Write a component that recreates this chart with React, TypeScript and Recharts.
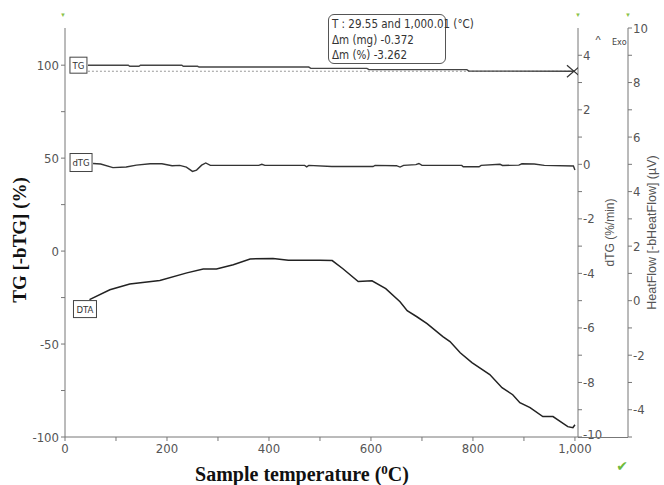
import React from 'react';
import { LineChart, Line, XAxis, YAxis } from 'recharts';

// temperature (°C) for each series
const tgTemp = [45, 124, 127, 145, 148, 229, 232, 260, 263, 478, 482, 592, 596, 788, 792, 1000];
const tgMass = [100, 100, 99.4, 99.4, 100, 100, 99.4, 99.4, 99.0, 99.0, 98.3, 98.3, 97.6, 97.6, 96.8, 96.74];

const baseTemp = [45, 1000];
const baseMass = [96.74, 96.74];

const dtgTemp = [55, 70, 94, 120, 140, 167, 190, 210, 225, 238, 250, 258, 268, 276, 285, 380, 386, 392, 470, 474, 478, 523, 604, 608, 650, 657, 664, 688, 694, 700, 778, 781, 812, 816, 853, 858, 890, 896, 920, 940, 997, 1000];
const dtgRate = [0.03, 0.01, -0.12, -0.1, -0.03, 0.02, 0.02, -0.05, -0.04, -0.1, -0.26, -0.21, -0.03, 0.05, -0.04, -0.04, 0.0, -0.04, -0.04, -0.09, -0.04, -0.08, -0.08, -0.04, -0.05, -0.1, -0.04, -0.01, 0.03, -0.04, -0.04, -0.09, -0.09, -0.04, 0.0, -0.04, -0.03, 0.02, 0.01, -0.04, -0.06, -0.21];

const dtaTemp = [48, 88, 127, 186, 239, 271, 297, 330, 363, 408, 438, 500, 524, 545, 575, 602, 629, 657, 671, 690, 710, 741, 755, 775, 798, 833, 857, 878, 892, 912, 937, 957, 986, 996, 1000];
const dtaFlow = [0.04, 0.4, 0.61, 0.74, 1.02, 1.16, 1.16, 1.32, 1.53, 1.55, 1.48, 1.48, 1.47, 1.17, 0.7, 0.73, 0.44, -0.04, -0.37, -0.59, -0.84, -1.32, -1.5, -1.91, -2.27, -2.71, -3.19, -3.45, -3.74, -3.92, -4.25, -4.25, -4.62, -4.66, -4.55];

const xTicks = [0, 100, 200, 300, 400, 500, 600, 700, 800, 900, 1000];
const tgTicks = [-100, -75, -50, -25, 0, 25, 50, 75, 100];
const dtgTicks = [-10, -9, -8, -7, -6, -5, -4, -3, -2, -1, 0, 1, 2, 3, 4];
const hfTicks = [-5, -4, -3, -2, -1, 0, 1, 2, 3, 4, 5, 6, 7, 8, 9, 10];

const infoLines = ['T : 29.55 and 1,000.01 (°C)', 'Δm (mg) -0.372', 'Δm (%) -3.262'];

const zip = (t: number[], v: number[]) => t.map((x, i) => ({ t: x, v: v[i] }));

const tgData = zip(tgTemp, tgMass);
const baseData = zip(baseTemp, baseMass);
const dtgData = zip(dtgTemp, dtgRate);
const dtaData = zip(dtaTemp, dtaFlow);

const narrow = "'DejaVu Sans Condensed', 'DejaVu Sans', sans-serif";
const narrowStyle = { fontStretch: 'condensed' as const };
const tickColor = '#555';
const axisColor = '#777';

const LeftTick = (p: any) => {
  if (p.payload.value % 50 !== 0) return <g />;
  return (
    <text x={p.x} y={p.y} dy={4.5} textAnchor="end" fill={tickColor} fontSize={13} fontFamily={narrow} style={narrowStyle}>
      {p.payload.value}
    </text>
  );
};

const RightTick = (p: any) => {
  if (p.payload.value % 2 !== 0) return <g />;
  return (
    <text x={p.x} y={p.y} dy={p.payload.value === -10 ? 2 : 4.5} textAnchor="start" fill={tickColor} fontSize={13} fontFamily={narrow} style={narrowStyle}>
      {p.payload.value}
    </text>
  );
};

const BottomTick = (p: any) => {
  if (p.payload.value % 200 !== 0) return <g />;
  return (
    <text x={p.x} y={p.y} dy={10} textAnchor="middle" fill={tickColor} fontSize={13} fontFamily={narrow} style={narrowStyle}>
      {p.payload.value.toLocaleString('en-US')}
    </text>
  );
};

// boxed series name next to the first point
const nameBox = (name: string, w: number, h: number, dx: number, dy: number) => (p: any) => {
  if (p.index !== 0) return <g key={p.index} />;
  return (
    <g key={p.index}>
      <rect x={p.cx + dx} y={p.cy + dy} width={w} height={h} fill="#fff" stroke="#444" strokeWidth={1} />
      <text x={p.cx + dx + w / 2} y={p.cy + dy + h / 2 + 3.5} textAnchor="middle" fontSize={9.5} fill="#333" fontFamily={narrow} style={narrowStyle}>
        {name}
      </text>
    </g>
  );
};

const endCross = (p: any) => {
  if (p.index !== baseData.length - 1) return <g key={p.index} />;
  return (
    <g key={p.index} stroke="#333" strokeWidth={1.2}>
      <line x1={p.cx - 8} y1={p.cy - 6} x2={p.cx + 6} y2={p.cy + 6} />
      <line x1={p.cx - 8} y1={p.cy + 6} x2={p.cx + 6} y2={p.cy - 6} />
    </g>
  );
};

export default function App() {
  return (
    <div style={{ position: 'absolute', left: 0, top: 0, width: 664, height: 485, background: '#fff' }}>
      <LineChart width={664} height={485} margin={{ top: 28, right: 0, bottom: 0, left: 0 }}>
        <XAxis
          dataKey="t"
          type="number"
          domain={[0, 1006]}
          ticks={xTicks}
          tick={BottomTick}
          tickSize={4}
          tickMargin={2}
          height={48}
          stroke={axisColor}
          allowDataOverflow
          label={{
            content: (p: any) => (
              <text x={p.viewBox.x + 237} y={p.viewBox.y + 44} textAnchor="middle" fontFamily="'Liberation Serif', 'Times New Roman', serif" fontWeight="bold" fontSize={20} fill="#111">
                Sample temperature (<tspan dy={-7} fontSize={13}>0</tspan><tspan dy={7}>C)</tspan>
              </text>
            ),
          }}
        />
        <YAxis
          yAxisId="tg"
          orientation="left"
          domain={[-100, 120]}
          ticks={tgTicks}
          tick={LeftTick}
          tickSize={4}
          tickMargin={2}
          width={65}
          stroke={axisColor}
          allowDataOverflow
          label={{
            content: () => (
              <text x={20} y={240} transform="rotate(-90 20 240)" dy={6} textAnchor="middle" fontFamily="'Liberation Serif', 'Times New Roman', serif" fontWeight="bold" fontSize={19} fill="#111">
                TG [-bTG] (%)
              </text>
            ),
          }}
        />
        <YAxis
          yAxisId="dtg"
          orientation="right"
          domain={[-10, 5]}
          ticks={dtgTicks}
          tick={RightTick}
          tickSize={4}
          tickMargin={1}
          width={50}
          stroke={axisColor}
          allowDataOverflow
          label={{
            content: (p: any) => (
              <text x={p.viewBox.x + 36} y={p.viewBox.y + p.viewBox.height / 2} transform={`rotate(-90 ${p.viewBox.x + 36} ${p.viewBox.y + p.viewBox.height / 2})`} textAnchor="middle" fontFamily="Arial, 'Liberation Sans', sans-serif" fontSize={12} fill="#555">
                dTG (%/min)
              </text>
            ),
          }}
        />
        <YAxis
          yAxisId="hf"
          orientation="right"
          domain={[-5, 10]}
          ticks={hfTicks}
          tick={RightTick}
          tickSize={4}
          tickMargin={1}
          width={36}
          stroke={axisColor}
          allowDataOverflow
          label={{
            content: (p: any) => (
              <text x={p.viewBox.x + 28} y={p.viewBox.y + p.viewBox.height / 2} transform={`rotate(-90 ${p.viewBox.x + 28} ${p.viewBox.y + p.viewBox.height / 2})`} textAnchor="middle" fontFamily="Arial, 'Liberation Sans', sans-serif" fontSize={12.5} fill="#555">
                HeatFlow [-bHeatFlow] (µV)
              </text>
            ),
          }}
        />
        <Line yAxisId="tg" data={baseData} dataKey="v" stroke="#999" strokeWidth={1} strokeDasharray="2 2" dot={endCross} isAnimationActive={false} />
        <Line yAxisId="tg" data={tgData} dataKey="v" type="linear" stroke="#444" strokeWidth={1.4} dot={nameBox('TG', 17, 16, -18, -8)} isAnimationActive={false} />
        <Line yAxisId="dtg" data={dtgData} dataKey="v" type="linear" stroke="#333" strokeWidth={1.4} dot={nameBox('dTG', 22, 18, -23, -10)} isAnimationActive={false} />
        <Line yAxisId="hf" data={dtaData} dataKey="v" type="linear" stroke="#222" strokeWidth={1.5} dot={nameBox('DTA', 23, 17, -16, 1)} isAnimationActive={false} />
      </LineChart>

      <svg width={664} height={485} style={{ position: 'absolute', left: 0, top: 0, pointerEvents: 'none' }}>
        <line x1={578} y1={437.5} x2={628} y2={437.5} stroke={axisColor} />
        <text x={598} y={44} textAnchor="middle" fontSize={11} fill="#444" fontFamily="Arial, sans-serif">^</text>
        <text x={612} y={45} fontSize={9} fill="#444" fontFamily={narrow} style={narrowStyle}>Exo</text>
        <text x={63} y={17} textAnchor="middle" fontSize={6} fill="#8bc34a">▼</text>
        <text x={578} y={17} textAnchor="middle" fontSize={6} fill="#8bc34a">▼</text>
        <text x={628} y={17} textAnchor="middle" fontSize={6} fill="#8bc34a">▼</text>
        <text x={622} y={471} textAnchor="middle" fontSize={14} fill="#6dbb3c" fontFamily="'DejaVu Sans', sans-serif">✔</text>
      </svg>

      <div
        style={{
          position: 'absolute',
          left: 328,
          top: 14,
          width: 113,
          height: 46,
          border: '1.5px solid #555',
          borderRadius: 6,
          padding: '2px 0 0 3px',
          fontFamily: narrow,
          fontStretch: 'condensed',
          fontSize: 11.5,
          lineHeight: '15.5px',
          color: '#333',
          background: '#fff',
        }}
      >
        {infoLines.map((s) => (
          <div key={s} style={{ whiteSpace: 'nowrap' }}>{s}</div>
        ))}
      </div>
    </div>
  );
}
